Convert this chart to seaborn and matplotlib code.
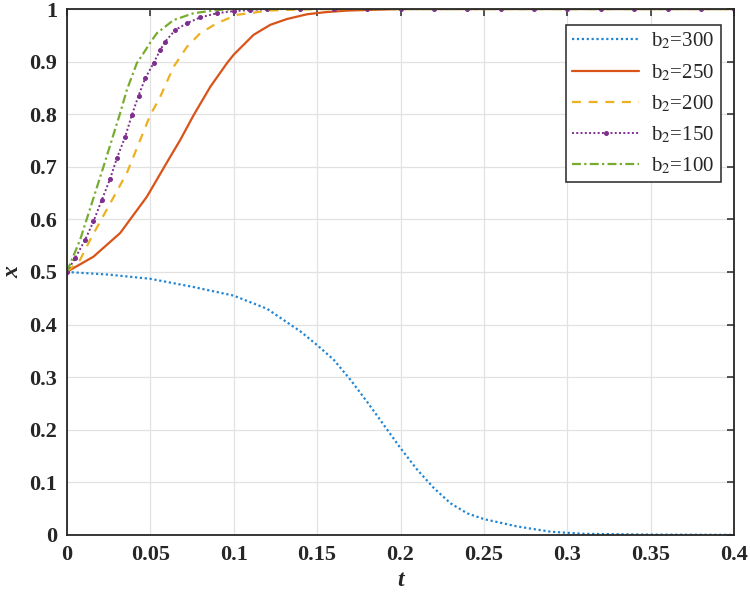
import numpy as np
import pandas as pd
import matplotlib
matplotlib.use("Agg")
import matplotlib.pyplot as plt
import seaborn as sns

# values
t_300 = [0, 0.025, 0.05, 0.075, 0.1, 0.12, 0.14, 0.15, 0.16, 0.17, 0.18, 0.19, 0.2,
         0.21, 0.22, 0.23, 0.24, 0.25, 0.27, 0.29, 0.31, 0.35, 0.4]
x_300 = [0.5, 0.495, 0.487, 0.472, 0.455, 0.43, 0.387, 0.361, 0.333, 0.295, 0.253, 0.209, 0.165,
         0.124, 0.089, 0.060, 0.041, 0.030, 0.016, 0.006, 0.002, 0.0005, 0.0]

t_250 = [0, 0.016, 0.032, 0.048, 0.062, 0.068, 0.076, 0.086, 0.096, 0.1, 0.112, 0.122,
         0.132, 0.144, 0.155, 0.168, 0.2, 0.25, 0.3, 0.35, 0.4]
x_250 = [0.5, 0.529, 0.574, 0.643, 0.719, 0.751, 0.798, 0.852, 0.897, 0.913, 0.951, 0.970,
         0.981, 0.99, 0.994, 0.997, 1.0, 1.0, 1.0, 1.0, 1.0]

t_200 = [0, 0.008, 0.014, 0.036, 0.05, 0.056, 0.064, 0.072, 0.08, 0.09, 0.102, 0.112,
         0.12, 0.15, 0.2, 0.25, 0.3, 0.35, 0.4]
x_200 = [0.5, 0.523, 0.561, 0.688, 0.798, 0.833, 0.89, 0.928, 0.954, 0.973, 0.989, 0.993,
         0.997, 1.0, 1.0, 1.0, 1.0, 1.0, 1.0]

t_150 = [0, 0.005, 0.011, 0.016, 0.021, 0.026, 0.030, 0.035, 0.039, 0.043, 0.047, 0.052,
         0.056, 0.059, 0.065, 0.072, 0.08, 0.09, 0.1, 0.11, 0.12, 0.14, 0.16, 0.18,
         0.2, 0.22, 0.24, 0.26, 0.28, 0.3, 0.32, 0.34, 0.36, 0.38, 0.4]
x_150 = [0.5, 0.526, 0.561, 0.596, 0.637, 0.677, 0.716, 0.757, 0.798, 0.835, 0.868, 0.897,
         0.922, 0.938, 0.96, 0.973, 0.984, 0.992, 0.996, 0.998, 1.0, 1.0, 1.0, 1.0,
         1.0, 1.0, 1.0, 1.0, 1.0, 1.0, 1.0, 1.0, 1.0, 1.0, 1.0]

t_100 = [0, 0.008, 0.022, 0.032, 0.036, 0.042, 0.046, 0.05, 0.054, 0.064, 0.076, 0.09,
         0.1, 0.15, 0.2, 0.25, 0.3, 0.35, 0.4]
x_100 = [0.5, 0.561, 0.700, 0.802, 0.846, 0.897, 0.916, 0.936, 0.954, 0.979, 0.992, 0.998,
         1.0, 1.0, 1.0, 1.0, 1.0, 1.0, 1.0]

labels = ["b$_2$=300", "b$_2$=250", "b$_2$=200", "b$_2$=150", "b$_2$=100"]
colors = ["#1f86d6", "#D95319", "#EDB120", "#7E2F8E", "#77AC30"]
styles = [
    dict(linestyle=(0, (1, 1.2)), linewidth=1.6),
    dict(linestyle="-", linewidth=1.6),
    dict(linestyle=(0, (4, 3.5)), linewidth=1.6),
    dict(linestyle=(0, (1, 1.2)), linewidth=1.4, marker="o", markersize=2.8),
    dict(linestyle=(0, (4, 1.5, 1, 1.5)), linewidth=1.6),
]

series = [(t_300, x_300), (t_250, x_250), (t_200, x_200), (t_150, x_150), (t_100, x_100)]

sns.set_style("whitegrid")
plt.rcParams["font.family"] = ["Liberation Serif", "DejaVu Serif"]
plt.rcParams["mathtext.fontset"] = "stix"

fig = plt.figure(figsize=(7.5, 6.01), dpi=100)
ax = fig.add_axes([0.089, 0.11, 0.89, 0.875])

for (tt, xx), lab, col, st in zip(series, labels, colors, styles):
    df = pd.DataFrame({"t": tt, "x": xx})
    sns.lineplot(data=df, x="t", y="x", ax=ax, color=col, label=lab, sort=False,
                 estimator=None, markeredgecolor=col, markerfacecolor=col, **st)

ax.set_xlim(0, 0.4)
ax.set_ylim(0, 1)
ax.set_xticks([0, 0.05, 0.1, 0.15, 0.2, 0.25, 0.3, 0.35, 0.4])
ax.set_xticklabels(["0", "0.05", "0.1", "0.15", "0.2", "0.25", "0.3", "0.35", "0.4"])
ax.set_yticks(np.arange(0, 1.01, 0.1))
ax.set_yticklabels(["0", "0.1", "0.2", "0.3", "0.4", "0.5", "0.6", "0.7", "0.8", "0.9", "1"])

ax.grid(True, color="#e2e2e2", linewidth=0.9)
for s in ax.spines.values():
    s.set_visible(True)
    s.set_color("#262626")
    s.set_linewidth(1.3)
ax.tick_params(direction="in", length=5, width=1.1, color="#262626",
               top=True, right=True, labelsize=16, pad=7)
for lbl in ax.get_xticklabels() + ax.get_yticklabels():
    lbl.set_fontweight("bold")

ax.set_xlabel("t", fontsize=17, fontstyle="italic", fontweight="bold", labelpad=4)
ax.set_ylabel("x", fontsize=17, fontstyle="italic", fontweight="bold", labelpad=4)

leg = ax.legend(loc="upper right", bbox_to_anchor=(0.98, 0.97), fontsize=15,
                frameon=True, fancybox=False, handlelength=3.2, numpoints=1,
                borderpad=0.3, labelspacing=0.5, handletextpad=0.6, borderaxespad=0)
leg.get_frame().set_edgecolor("#262626")
leg.get_frame().set_linewidth(1.1)
leg.get_frame().set_alpha(1)

fig.savefig("out.png", dpi=100)
